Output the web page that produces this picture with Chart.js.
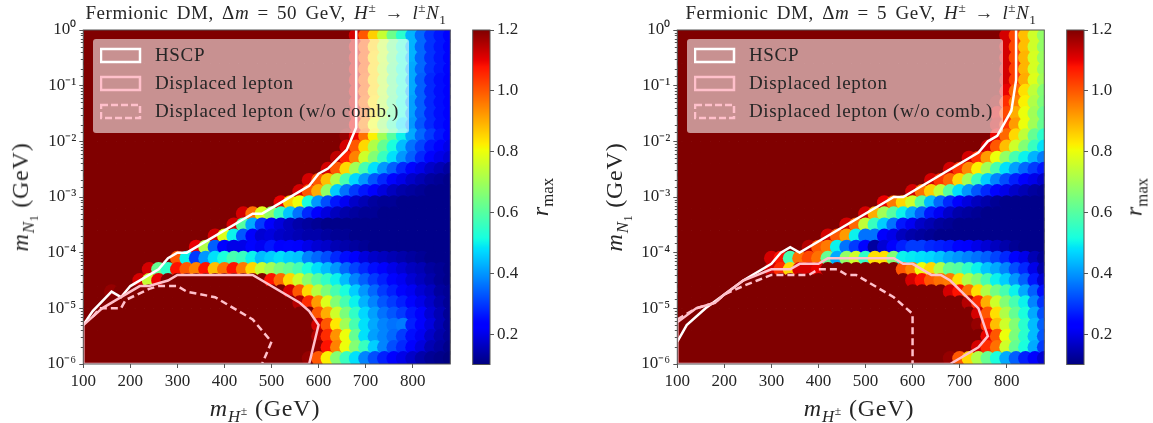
<!DOCTYPE html>
<html lang="en">
<head>
<meta charset="UTF-8">
<title>Fermionic DM rmax scans</title>
<script src="https://cdn.jsdelivr.net/npm/chart.js"></script>
<style>
  html, body { margin: 0; padding: 0; background: #fff; overflow: hidden; }
  #page { position: relative; width: 1153px; height: 423px; }
  canvas { position: absolute; top: 0; }
  .t { position: absolute; font-family: "Liberation Serif", serif; color: #262626; white-space: nowrap; transform: translate(-50%, -50%); }
  .t sup, .t sub { font-size: 70%; line-height: 0; }
  .title { font-size: 19px; letter-spacing: .55px; word-spacing: 3px; }
  .axis { font-size: 24px; letter-spacing: .8px; }
  .rot { transform: translate(-50%, -50%) rotate(-90deg); }
  .legend { position: absolute; top: 39px; width: 316px; height: 94px; background: rgba(255,255,255,.57); border-radius: 3px; }
  .legend svg { position: absolute; left: 7px; top: 0; }
  .legend div { position: absolute; left: 62px; font-family: "Liberation Serif", serif; font-size: 19px; color: #262626; white-space: nowrap; letter-spacing: .65px; }
</style>
</head>
<body>
<div id="page">
  <canvas id="plot50" width="470" height="423" style="left:0"></canvas>
  <canvas id="bar50" width="100" height="423" style="left:465px"></canvas>
  <canvas id="plot5" width="470" height="423" style="left:594px"></canvas>
  <canvas id="bar5" width="100" height="423" style="left:1059px"></canvas>

  <div class="t title" style="left:266px;top:13px">Fermionic DM, Δ<i>m</i> = 50 GeV, <i>H</i><sup>±</sup> → <i>l</i><sup>±</sup><i>N</i><sub>1</sub></div>
  <div class="t title" style="left:861px;top:13px">Fermionic DM, Δ<i>m</i> = 5 GeV, <i>H</i><sup>±</sup> → <i>l</i><sup>±</sup><i>N</i><sub>1</sub></div>
  <div class="t axis" style="left:265px;top:408px"><i>m</i><sub><i>H</i><sup>±</sup></sub> (GeV)</div>
  <div class="t axis" style="left:859px;top:408px"><i>m</i><sub><i>H</i><sup>±</sup></sub> (GeV)</div>
  <div class="t axis rot" style="left:21px;top:197px"><i>m</i><sub><i>N</i><sub>1</sub></sub> (GeV)</div>
  <div class="t axis rot" style="left:615px;top:197px"><i>m</i><sub><i>N</i><sub>1</sub></sub> (GeV)</div>
  <div class="t rot" style="left:540px;top:197px;font-size:24px"><i>r</i><sub>max</sub></div>
  <div class="t rot" style="left:1134px;top:197px;font-size:24px"><i>r</i><sub>max</sub></div>

  <div class="legend" style="left:93px">
    <svg width="44" height="94">
      <rect x="1" y="10" width="39" height="13" fill="none" stroke="#fff" stroke-width="2.5"/>
      <rect x="1" y="38" width="39" height="13" fill="none" stroke="#ffc0cb" stroke-width="2.5"/>
      <rect x="1" y="66" width="39" height="13" fill="none" stroke="#ffc0cb" stroke-width="2.5" stroke-dasharray="7 3"/>
    </svg>
    <div style="top:5px">HSCP</div>
    <div style="top:33px">Displaced lepton</div>
    <div style="top:61px">Displaced lepton (w/o comb.)</div>
  </div>
  <div class="legend" style="left:687px">
    <svg width="44" height="94">
      <rect x="1" y="10" width="39" height="13" fill="none" stroke="#fff" stroke-width="2.5"/>
      <rect x="1" y="38" width="39" height="13" fill="none" stroke="#ffc0cb" stroke-width="2.5"/>
      <rect x="1" y="66" width="39" height="13" fill="none" stroke="#ffc0cb" stroke-width="2.5" stroke-dasharray="7 3"/>
    </svg>
    <div style="top:5px">HSCP</div>
    <div style="top:33px">Displaced lepton</div>
    <div style="top:61px">Displaced lepton (w/o comb.)</div>
  </div>
</div>
<script>
// scan grid: charged Higgs mass (GeV) and log10 of the N1 mass (GeV)
const massGrid = [100,120,140,160,180,200,220,240,260,280,300,320,340,360,380,400,420,440,460,480,500,520,540,560,580,600,620,640,660,680,700,720,740,760,780,800,820,840,860,880];
const logGrid = [0.1,-0.1,-0.3,-0.5,-0.7,-0.9,-1.1,-1.3,-1.5,-1.7,-1.9,-2.1,-2.3,-2.5,-2.7,-2.9,-3.1,-3.3,-3.5,-3.7,-3.9,-4.1,-4.3,-4.5,-4.7,-4.9,-5.1,-5.3,-5.5,-5.7,-5.9];

// rmax x 100, one row per logGrid entry, one column per massGrid entry (120 = off the top of the colour scale)
const rmax50 = [
[120,120,120,120,120,120,120,120,120,120, 120,120,120,120,120,120,120,120,120,120, 120,120,120,120,120,120,120,120,120,112, 100,86,75,63,54,43,35,29,26,24],
[120,120,120,120,120,120,120,120,120,120, 120,120,120,120,120,120,120,120,120,120, 120,120,120,120,120,120,120,120,120,112, 100,86,75,63,54,43,35,29,26,24],
[120,120,120,120,120,120,120,120,120,120, 120,120,120,120,120,120,120,120,120,120, 120,120,120,120,120,120,120,120,120,112, 100,86,75,63,54,43,35,29,26,24],
[120,120,120,120,120,120,120,120,120,120, 120,120,120,120,120,120,120,120,120,120, 120,120,120,120,120,120,120,120,120,112, 100,85,75,63,53,43,35,29,26,24],
[120,120,120,120,120,120,120,120,120,120, 120,120,120,120,120,120,120,120,120,120, 120,120,120,120,120,120,120,120,120,112, 100,85,74,62,53,42,35,29,26,24],
[120,120,120,120,120,120,120,120,120,120, 120,120,120,120,120,120,120,120,120,120, 120,120,120,120,120,120,120,120,120,112, 99,85,74,62,53,42,34,28,25,23],
[120,120,120,120,120,120,120,120,120,120, 120,120,120,120,120,120,120,120,120,120, 120,120,120,120,120,120,120,120,120,112, 99,85,74,62,53,42,34,28,25,23],
[120,120,120,120,120,120,120,120,120,120, 120,120,120,120,120,120,120,120,120,120, 120,120,120,120,120,120,120,120,120,112, 98,84,73,61,52,41,34,28,25,23],
[120,120,120,120,120,120,120,120,120,120, 120,120,120,120,120,120,120,120,120,120, 120,120,120,120,120,120,120,120,120,112, 98,84,73,61,52,41,34,28,25,23],
[120,120,120,120,120,120,120,120,120,120, 120,120,120,120,120,120,120,120,120,120, 120,120,120,120,120,120,120,120,120,110, 95,80,68,57,48,40,33,28,25,23],
[120,120,120,120,120,120,120,120,120,120, 120,120,120,120,120,120,120,120,120,120, 120,120,120,120,120,120,120,120,118,110, 97,82,70,60,50,42,35,30,26,22],
[120,120,120,120,120,120,120,120,120,120, 120,120,120,120,120,120,120,120,120,120, 120,120,120,120,120,120,120,120,112,100, 85,72,62,52,44,36,31,26,23,20],
[120,120,120,120,120,120,120,120,120,120, 120,120,120,120,120,120,120,120,120,120, 120,120,120,120,120,120,120,114,106,95, 76,66,56,48,40,34,28,24,20,18],
[120,120,120,120,120,120,120,120,120,120, 120,120,120,120,120,120,120,120,120,120, 120,120,120,120,120,120,112,100,85,70, 58,48,40,34,28,24,20,17,15,13],
[120,120,120,120,120,120,120,120,120,120, 120,120,120,120,120,120,120,120,120,120, 120,120,120,120,112,100,88,72,58,47, 40,33,28,24,20,17,15,13,12,11],
[120,120,120,120,120,120,120,120,120,120, 120,120,120,120,120,120,120,120,120,120, 120,120,120,112,100,90,68,46,36,30, 26,22,19,16,14,13,12,11,11,11],
[120,120,120,120,120,120,120,120,120,120, 120,120,120,120,120,120,120,120,120,120, 120,110,86,80,52,40,32,26,21,17, 15,13,12,12,11,11,11,11,11,11],
[120,120,120,120,120,120,120,120,120,120, 120,120,120,120,120,120,120,112,97,78, 68,56,45,36,28,23,19,16,14,13, 12,12,11,11,11,11,11,11,11,11],
[120,120,120,120,120,120,120,120,120,120, 120,120,120,120,120,120,112,60,42,30, 22,19,16,14,13,12,11,11,11,11, 11,11,11,11,11,11,11,11,11,11],
[120,120,120,120,120,120,120,120,120,120, 120,120,120,120,112,78,50,33,22,18, 19,17,16,15,14,14,13,12,12,11, 11,11,11,11,11,11,11,11,11,11],
[120,120,120,120,120,120,120,120,120,120, 120,120,110,72,34,24,20,20,24,21, 26,22,24,22,20,18,17,15,14,13, 12,11,11,11,11,11,11,11,11,11],
[120,120,120,120,120,120,120,120,120,120, 100,50,30,40,48,52,58,56,50,44, 46,48,46,45,38,35,32,28,25,22, 19,17,16,15,14,13,12,11,11,11],
[120,120,120,120,120,120,120,112,62,55, 108,100,95,108,88,97,108,96,85,75, 70,65,62,58,52,48,44,40,35,31, 28,25,22,20,18,16,15,13,12,11],
[120,120,120,120,120,120,112,75,110,120, 120,120,120,120,120,120,120,120,120,120, 108,98,85,76,67,60,55,50,44,38, 34,30,27,24,21,18,16,14,12,11],
[120,120,120,118,120,120,120,120,120,120, 120,120,120,120,120,120,120,120,120,120, 120,120,112,100,85,73,65,58,52,46, 40,35,30,27,24,21,18,16,13,12],
[120,120,120,120,120,120,120,120,120,120, 120,120,120,120,120,120,120,120,120,120, 120,120,120,115,105,92,78,66,58,50, 43,38,33,30,27,24,20,17,14,12],
[120,120,120,120,120,120,120,120,120,120, 120,120,120,120,120,120,120,120,120,120, 120,120,120,120,120,100,90,76,65,55, 47,41,36,33,30,26,22,18,15,12],
[120,120,120,120,120,120,120,120,120,120, 120,120,120,120,120,120,120,120,120,120, 120,120,120,120,120,112,100,83,70,58, 48,42,38,36,37,27,23,19,15,12],
[120,120,120,120,120,120,120,120,120,120, 120,120,120,120,120,120,120,120,120,120, 120,120,120,120,120,115,105,93,80,62, 48,41,38,35,30,25,21,17,14,12],
[120,120,120,120,120,120,120,120,120,120, 120,120,120,120,120,120,120,120,120,120, 120,120,120,120,120,118,108,95,80,66, 56,46,38,32,28,23,19,15,13,11],
[120,120,120,120,120,120,120,120,120,120, 120,120,120,120,120,120,120,120,120,120, 120,120,120,120,118,100,82,66,56,48, 38,32,27,23,20,17,14,12,11,10]
];
const rmax5 = [
[120,120,120,120,120,120,120,120,120,120, 120,120,120,120,120,120,120,120,120,120, 120,120,120,120,120,120,120,120,120,120, 120,120,120,120,120,112,102,88,76,68],
[120,120,120,120,120,120,120,120,120,120, 120,120,120,120,120,120,120,120,120,120, 120,120,120,120,120,120,120,120,120,120, 120,120,120,120,120,112,102,88,76,68],
[120,120,120,120,120,120,120,120,120,120, 120,120,120,120,120,120,120,120,120,120, 120,120,120,120,120,120,120,120,120,120, 120,120,120,120,120,112,102,88,76,68],
[120,120,120,120,120,120,120,120,120,120, 120,120,120,120,120,120,120,120,120,120, 120,120,120,120,120,120,120,120,120,120, 120,120,120,120,120,112,102,89,77,69],
[120,120,120,120,120,120,120,120,120,120, 120,120,120,120,120,120,120,120,120,120, 120,120,120,120,120,120,120,120,120,120, 120,120,120,120,120,112,103,89,77,69],
[120,120,120,120,120,120,120,120,120,120, 120,120,120,120,120,120,120,120,120,120, 120,120,120,120,120,120,120,120,120,120, 120,120,120,120,120,112,103,90,78,70],
[120,120,120,120,120,120,120,120,120,120, 120,120,120,120,120,120,120,120,120,120, 120,120,120,120,120,120,120,120,120,120, 120,120,120,120,120,110,98,84,74,66],
[120,120,120,120,120,120,120,120,120,120, 120,120,120,120,120,120,120,120,120,120, 120,120,120,120,120,120,120,120,120,120, 120,120,120,120,118,105,95,82,72,65],
[120,120,120,120,120,120,120,120,120,120, 120,120,120,120,120,120,120,120,120,120, 120,120,120,120,120,120,120,120,120,120, 120,120,120,120,112,102,90,80,70,62],
[120,120,120,120,120,120,120,120,120,120, 120,120,120,120,120,120,120,120,120,120, 120,120,120,120,120,120,120,120,120,120, 120,120,120,120,114,104,92,80,70,62],
[120,120,120,120,120,120,120,120,120,120, 120,120,120,120,120,120,120,120,120,120, 120,120,120,120,120,120,120,120,120,120, 120,120,120,120,110,98,85,74,62,54],
[120,120,120,120,120,120,120,120,120,120, 120,120,120,120,120,120,120,120,120,120, 120,120,120,120,120,120,120,120,120,120, 120,120,120,112,100,88,76,66,56,48],
[120,120,120,120,120,120,120,120,120,120, 120,120,120,120,120,120,120,120,120,120, 120,120,120,120,120,120,120,120,120,120, 120,112,104,92,80,68,58,50,43,37],
[120,120,120,120,120,120,120,120,120,120, 120,120,120,120,120,120,120,120,120,120, 120,120,120,120,120,120,120,120,120,112, 104,94,82,70,58,48,41,35,30,26],
[120,120,120,120,120,120,120,120,120,120, 120,120,120,120,120,120,120,120,120,120, 120,120,120,120,120,120,120,112,104,98, 85,70,56,46,38,32,27,23,20,17],
[120,120,120,120,120,120,120,120,120,120, 120,120,120,120,120,120,120,120,120,120, 120,120,120,120,120,112,97,86,74,60, 48,40,33,28,24,20,17,15,13,12],
[120,120,120,120,120,120,120,120,120,120, 120,120,120,120,120,120,120,120,120,120, 120,120,110,96,85,76,60,44,35,28, 23,19,16,14,12,11,11,11,11,11],
[120,120,120,120,120,120,120,120,120,120, 120,120,120,120,120,120,120,120,120,120, 112,90,70,60,50,42,34,26,21,17, 14,13,12,11,11,11,11,11,11,11],
[120,120,120,120,120,120,120,120,120,120, 120,120,120,120,120,120,120,120,112,98, 74,56,46,36,26,21,17,15,13,12, 11,11,11,11,11,11,11,11,11,11],
[120,120,120,120,120,120,120,120,120,120, 120,120,120,120,120,120,112,100,92,50, 36,36,22,20,16,14,13,12,11,11, 11,11,11,11,11,11,11,11,11,11],
[120,120,120,120,120,120,120,120,120,120, 120,120,120,120,115,100,96,50,36,30, 24,13,18,22,27,30,30,28,27,26, 24,22,20,18,16,14,12,11,11,11],
[120,120,120,120,120,120,120,120,120,120, 112,108,58,97,102,97,62,42,68,76, 55,84,84,66,50,49,48,47,45,42, 40,38,36,34,31,28,24,20,15,12],
[120,120,120,120,120,120,120,120,120,120, 112,105,85,112,112,110,120,120,120,120, 120,120,120,120,100,95,80,85,72,62, 60,55,50,45,42,38,32,28,20,14],
[120,120,120,120,120,120,120,120,120,120, 120,120,120,120,120,120,120,120,120,120, 120,120,120,120,120,112,108,100,97,96, 84,72,66,58,50,46,40,34,26,18],
[120,120,120,120,120,120,120,120,120,120, 120,120,120,120,120,120,120,120,120,120, 120,120,120,120,120,120,120,120,120,112, 108,97,84,72,64,58,50,42,34,25],
[120,120,120,120,120,120,120,120,120,120, 120,120,120,120,120,120,120,120,120,120, 120,120,120,120,120,120,120,120,120,120, 120,115,105,90,76,66,58,50,38,29],
[120,120,120,120,120,120,120,120,120,120, 120,120,120,120,120,120,120,120,120,120, 120,120,120,120,120,120,120,120,120,120, 120,120,112,100,84,72,62,52,42,32],
[120,120,120,120,120,120,120,120,120,120, 120,120,120,120,120,120,120,120,120,120, 120,120,120,120,120,120,120,120,120,120, 120,120,118,105,88,76,66,54,44,34],
[120,120,120,120,120,120,120,120,120,120, 120,120,120,120,120,120,120,120,120,120, 120,120,120,120,120,120,120,120,120,120, 120,120,120,110,100,80,65,54,44,33],
[120,120,120,120,120,120,120,120,120,120, 120,120,120,120,120,120,120,120,120,120, 120,120,120,120,120,120,120,120,120,120, 120,120,112,105,97,76,62,52,42,30],
[120,120,120,120,120,120,120,120,120,120, 120,120,120,120,120,120,120,120,120,120, 120,120,120,120,120,120,120,120,120,118, 100,85,72,62,52,42,34,27,22,18]
];

// exclusion contours, mass in GeV and log10 of mN1
const hscp50Mass = [100,120,160,180,200,260,280,300,320,460,480,560,580,600,620,660,680,680];
const hscp50Log = [-5.3,-5.05,-4.7,-4.8,-4.6,-4.3,-4.1,-4,-4,-3.3,-3.3,-2.9,-2.8,-2.58,-2.49,-2.15,-1.75,0];
const lep50Mass = [100,100,140,180,220,240,280,300,460,560,580,600,580,100];
const lep50Log = [-6,-5.3,-5,-4.8,-4.6,-4.6,-4.5,-4.4,-4.4,-4.9,-5.05,-5.3,-6,-6];
const nocomb50Mass = [120,135,180,190,240,260,300,320,380,460,500,480];
const nocomb50Log = [-5.15,-5,-5,-4.85,-4.65,-4.6,-4.6,-4.7,-4.8,-5.2,-5.6,-6];

const hscp5Mass = [100,120,160,200,240,300,320,340,360,560,580,740,760,780,810,820,820];
const hscp5Log = [-5.6,-5.3,-5,-4.75,-4.5,-4.2,-4,-3.9,-4,-3,-3,-2.2,-2,-1.9,-1.45,-0.9,0];
const lep5Mass = [100,100,140,180,200,240,300,340,360,400,420,560,580,600,640,660,680,740,760,740,680,100];
const lep5Log = [-6,-5.25,-5,-4.9,-4.75,-4.5,-4.3,-4.3,-4.2,-4.2,-4.1,-4.1,-4.2,-4.2,-4.4,-4.4,-4.5,-5,-5.5,-5.7,-6,-6];
const nocomb5Mass = [100,140,180,200,240,270,300,380,400,440,460,480,560,580,600,600];
const nocomb5Log = [-5.2,-5,-4.9,-4.75,-4.6,-4.5,-4.4,-4.4,-4.3,-4.3,-4.4,-4.4,-4.8,-4.95,-5.1,-6];

const xTicks = [100,200,300,400,500,600,700,800];
const barTicks = [0.2,0.4,0.6,0.8,1.0,1.2];
const barMin = 0.1, barMax = 1.2;

// matplotlib jet segments
const jetR = [[0,0],[0.35,0],[0.66,1],[0.89,1],[1,0.5]];
const jetG = [[0,0],[0.125,0],[0.375,1],[0.64,1],[0.91,0],[1,0]];
const jetB = [[0,0.5],[0.11,1],[0.34,1],[0.65,0],[1,0]];

function seg(stops, t) {
  for (let i = 1; i < stops.length; i++) {
    if (t <= stops[i][0]) {
      const [a, va] = stops[i - 1], [b, vb] = stops[i];
      return va + (vb - va) * (t - a) / (b - a);
    }
  }
  return stops[stops.length - 1][1];
}
function jet(t) {
  t = Math.min(1, Math.max(0, t));
  return `rgb(${Math.round(seg(jetR, t) * 255)},${Math.round(seg(jetG, t) * 255)},${Math.round(seg(jetB, t) * 255)})`;
}
const rColor = r => jet((r - barMin) / (barMax - barMin));

const textColor = '#262626';
const axisColor = '#555';
const tickFont = { family: '"Liberation Serif", serif', size: 17 };
const supers = { '-': '⁻', '0': '⁰', '1': '¹', '2': '²', '3': '³', '4': '⁴', '5': '⁵', '6': '⁶' };
const isDecade = v => Math.abs(Math.log10(v) - Math.round(Math.log10(v))) < 1e-6;

// frame on top of the marks, plus the short minor ticks of the log axis
const framePlugin = {
  id: 'frame',
  afterDatasetsDraw(chart) {
    const { ctx, chartArea: a, scales } = chart;
    ctx.save();
    ctx.strokeStyle = axisColor;
    ctx.lineWidth = 1;
    ctx.strokeRect(a.left, a.top, a.right - a.left, a.bottom - a.top);
    if (scales.y.type === 'logarithmic') {
      ctx.beginPath();
      scales.y.ticks.forEach(t => {
        if (isDecade(t.value)) return;
        const py = Math.round(scales.y.getPixelForValue(t.value)) + 0.5;
        ctx.moveTo(a.left - 2.5, py);
        ctx.lineTo(a.left, py);
      });
      ctx.stroke();
    }
    ctx.restore();
  }
};

function drawPanel(id, rmax, hscpMass, hscpLog, lepMass, lepLog, nocombMass, nocombLog) {
  const points = [], colors = [];
  logGrid.forEach((lg, i) => massGrid.forEach((m, j) => {
    points.push({ x: m, y: Math.pow(10, lg) });
    colors.push(rColor(rmax[i][j] / 100));
  }));
  const contour = (mass, logs, color, dash) => ({
    data: mass.map((m, i) => ({ x: m, y: Math.pow(10, logs[i]) })),
    showLine: true, pointRadius: 0, borderColor: color, borderWidth: 2.5, borderDash: dash, tension: 0
  });
  new Chart(document.getElementById(id), {
    type: 'scatter',
    data: {
      datasets: [
        { data: points, pointRadius: 7.4, pointHoverRadius: 7.4, pointBorderWidth: 0, pointBackgroundColor: colors, order: 4 },
        Object.assign(contour(hscpMass, hscpLog, '#fff', []), { order: 3 }),
        Object.assign(contour(nocombMass, nocombLog, '#ffc0cb', [7, 4]), { order: 2 }),
        Object.assign(contour(lepMass, lepLog, '#ffc0cb', []), { order: 1 })
      ]
    },
    options: {
      responsive: false, animation: false, devicePixelRatio: 1,
      layout: { padding: { top: 30, right: 19.7, left: 0, bottom: 0 } },
      plugins: { legend: { display: false }, tooltip: { enabled: false } },
      scales: {
        x: {
          type: 'linear', min: 100, max: 880,
          afterBuildTicks(s) { s.ticks = xTicks.map(v => ({ value: v })); },
          afterFit(s) { s.height = 59; },
          border: { display: false },
          grid: { drawOnChartArea: false, tickLength: 4, color: axisColor },
          ticks: { color: textColor, font: tickFont, maxRotation: 0, autoSkip: false, padding: 3 }
        },
        y: {
          type: 'logarithmic', min: 1e-6, max: 1,
          afterFit(s) { s.width = 83.3; },
          border: { display: false },
          grid: { drawOnChartArea: false, tickLength: 4, color: c => isDecade(c.tick.value) ? axisColor : 'rgba(0,0,0,0)' },
          ticks: {
            color: textColor, font: tickFont, autoSkip: false, padding: 3,
            callback: v => isDecade(v) ? '10' + String(Math.round(Math.log10(v))).split('').map(c => supers[c]).join('') : ''
          }
        }
      }
    },
    plugins: [framePlugin]
  });
}

function drawColorbar(id) {
  new Chart(document.getElementById(id), {
    type: 'bar',
    data: {
      labels: [''],
      datasets: [{
        data: [[barMin, barMax]],
        barPercentage: 1, categoryPercentage: 1,
        backgroundColor(c) {
          const a = c.chart.chartArea;
          if (!a) return '#000';
          const g = c.chart.ctx.createLinearGradient(0, a.bottom, 0, a.top);
          for (let i = 0; i <= 100; i++) g.addColorStop(i / 100, jet(i / 100));
          return g;
        }
      }]
    },
    options: {
      responsive: false, animation: false, devicePixelRatio: 1,
      layout: { padding: { top: 30, bottom: 58.5, left: 7.7, right: 0 } },
      plugins: { legend: { display: false }, tooltip: { enabled: false } },
      scales: {
        x: { display: false },
        y: {
          position: 'right', min: barMin, max: barMax,
          afterBuildTicks(s) { s.ticks = barTicks.map(v => ({ value: v })); },
          afterFit(s) { s.width = 75; },
          border: { display: false },
          grid: { drawOnChartArea: false, tickLength: 4, color: axisColor },
          ticks: { color: textColor, font: tickFont, padding: 3, autoSkip: false, callback: v => v.toFixed(1) }
        }
      }
    },
    plugins: [framePlugin]
  });
}

drawPanel('plot50', rmax50, hscp50Mass, hscp50Log, lep50Mass, lep50Log, nocomb50Mass, nocomb50Log);
drawPanel('plot5', rmax5, hscp5Mass, hscp5Log, lep5Mass, lep5Log, nocomb5Mass, nocomb5Log);
drawColorbar('bar50');
drawColorbar('bar5');
</script>
</body>
</html>
